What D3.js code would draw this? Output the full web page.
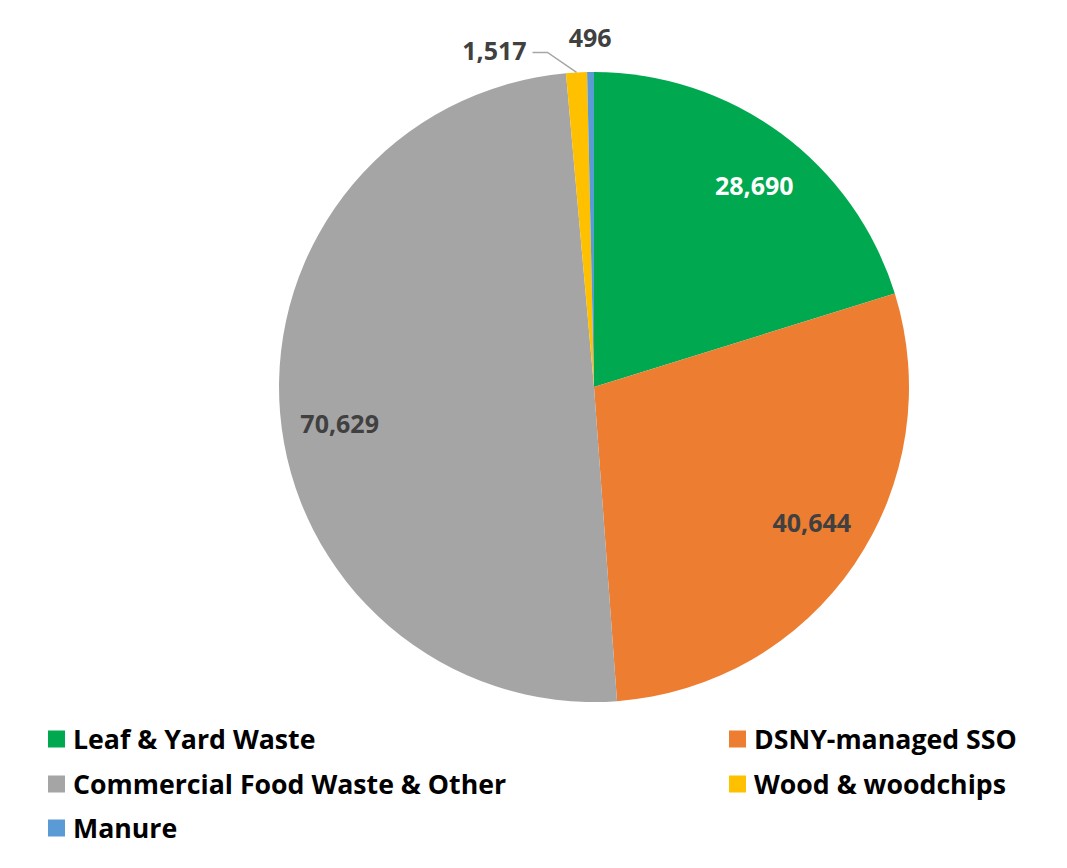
<!DOCTYPE html>
<html><head><meta charset="utf-8">
<script src="https://cdn.jsdelivr.net/npm/d3@7"></script>
<style>body{margin:0;background:#fff;} text{font-family:"Open Sans",Lato,sans-serif;font-weight:bold;}</style>
</head><body>
<svg id="c" width="1067" height="868"></svg>
<script>
const categories = ["Leaf & Yard Waste","DSNY-managed SSO","Commercial Food Waste & Other","Wood & woodchips","Manure"];
const values = [28690, 40644, 70629, 1517, 496];
const colors = ["#00a94f","#ed7d31","#a5a5a5","#ffc000","#5b9bd5"];
const labelColors = ["#ffffff","#404040","#404040","#404040","#404040"];
const labelNudgeDeg = [2.2, -2.2, -3.6, 0, 0];

const svg = d3.select("#c");
const cx = 594, cy = 387, R = 315;
const g = svg.append("g").attr("transform",`translate(${cx},${cy})`);
const pie = d3.pie().sort(null).value(d=>d)(values);
const arc = d3.arc().innerRadius(0).outerRadius(R);
g.selectAll("path").data(pie).enter().append("path")
  .attr("d",arc).attr("fill",(d,i)=>colors[i]);

const fmt = d3.format(",");
const pt = (a,r)=>[Math.sin(a)*r, -Math.cos(a)*r];
pie.forEach((d,i)=>{
  const mid=(d.startAngle+d.endAngle)/2 + labelNudgeDeg[i]*Math.PI/180;
  if (i<3){
    const [x,y]=pt(mid,257);
    g.append("text").attr("x",x).attr("y",y).attr("dy","0.35em").attr("text-anchor","middle")
     .attr("font-size",25).attr("fill",labelColors[i]).text(fmt(values[i]));
  } else if (i===4){
    const [x,y]=pt(mid,R+34);
    g.append("text").attr("x",x).attr("y",y).attr("dy","0.35em").attr("text-anchor","middle")
     .attr("font-size",25).attr("fill",labelColors[i]).text(fmt(values[i]));
  } else {
    const [x0,y0]=pt(mid,R);
    const ly=y0-20;
    g.append("polyline").attr("points",`${x0},${y0} ${x0-29},${ly} ${x0-44},${ly}`)
     .attr("fill","none").attr("stroke","#a6a6a6").attr("stroke-width",1.5);
    g.append("text").attr("x",x0-50).attr("y",ly-1).attr("dy","0.35em").attr("text-anchor","end")
     .attr("font-size",25).attr("fill",labelColors[i]).text(fmt(values[i]));
  }
});

// legend
const legendPos = [[48,739],[729,739],[48,784],[729,784],[48,828]];
categories.forEach((c,i)=>{
  const [x,y]=legendPos[i];
  svg.append("rect").attr("x",x).attr("y",y-8.5).attr("width",17).attr("height",17).attr("fill",colors[i]);
  svg.append("text").attr("x",x+25).attr("y",y).attr("dy","0.36em").attr("font-size",26.7)
    .attr("fill","#000").text(c);
});
</script>
</body></html>
